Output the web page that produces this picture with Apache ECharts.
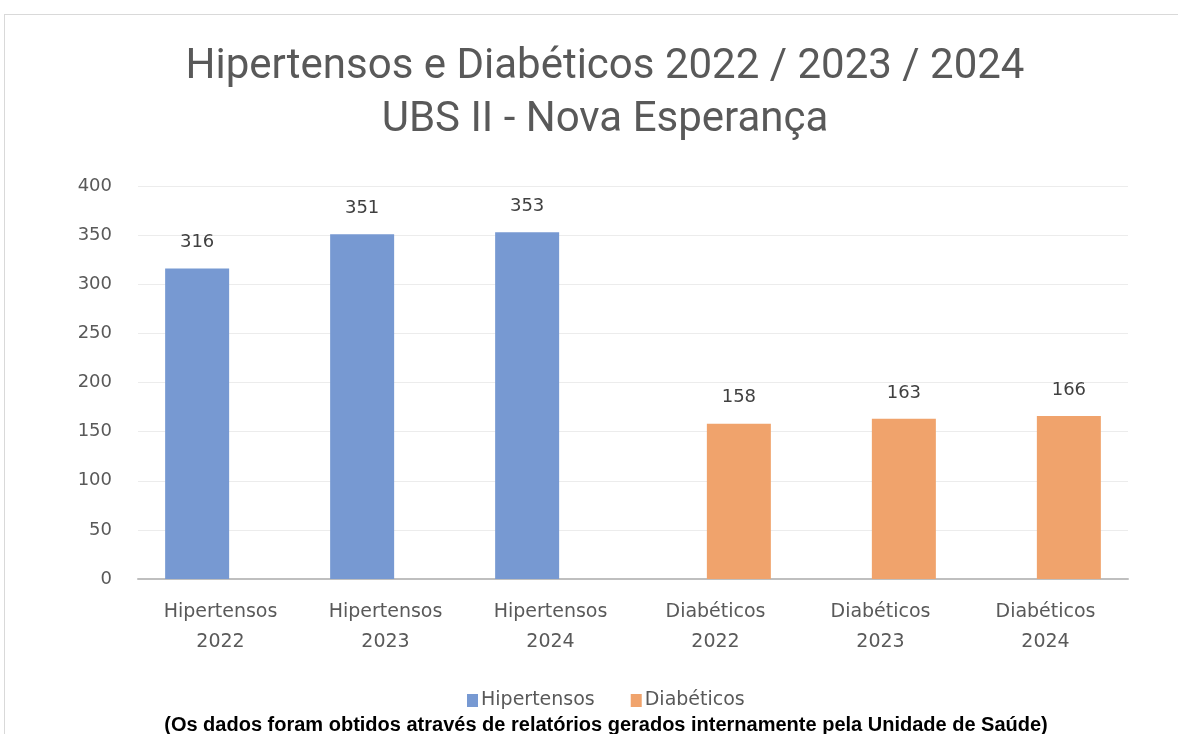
<!DOCTYPE html>
<html>
<head>
<meta charset="utf-8">
<script src="https://cdn.jsdelivr.net/npm/echarts@6/dist/echarts.min.js"></script>
<style>
  html, body { margin: 0; padding: 0; background: #fff; overflow: hidden; }
  #frame { position: absolute; left: 4px; top: 14px; width: 1200px; height: 740px; border: 1px solid #d9d9d9; }
  #chart { position: absolute; left: 0; top: 0; width: 1178px; height: 734px; }
</style>
</head>
<body>
<div id="frame"></div>
<div id="chart"></div>
<script>
const categories = [
  "Hipertensos\n2022", "Hipertensos\n2023", "Hipertensos\n2024",
  "Diabéticos\n2022", "Diabéticos\n2023", "Diabéticos\n2024"
];
const hipertensos = [316, 351, 353, null, null, null];
const diabeticos = [null, null, null, 158, 163, 166];
const yTicks = { min: 0, max: 400, interval: 50 };

const labelFont = "DejaVu Sans";

const chart = echarts.init(document.getElementById("chart"));

const barLabel = {
  show: true,
  position: "top",
  distance: 17,
  color: "#404040",
  fontFamily: labelFont,
  fontSize: 18
};

chart.setOption({
  animation: false,
  title: [
    {
      text: "Hipertensos e Diabéticos 2022 / 2023 / 2024\nUBS II - Nova Esperança",
      left: 600,
      textAlign: "center",
      top: 36,
      textStyle: {
        fontFamily: "Roboto, sans-serif",
        fontWeight: "normal",
        fontSize: 42,
        lineHeight: 53,
        color: "#595959"
      }
    },
    {
      text: "(Os dados foram obtidos através de relatórios gerados internamente pela Unidade de Saúde)",
      left: 601,
      textAlign: "center",
      top: 710,
      textStyle: {
        fontFamily: "Liberation Sans, sans-serif",
        fontWeight: "bold",
        fontSize: 20,
        color: "#000"
      }
    }
  ],
  legend: {
    data: ["Hipertensos", "Diabéticos"],
    left: 462,
    top: 686,
    itemWidth: 11,
    itemHeight: 13,
    itemGap: 36,
    icon: "rect",
    textStyle: { fontFamily: labelFont, fontSize: 19, color: "#595959", padding: [0, 0, 0, -2] }
  },
  grid: { left: 138, right: 50, top: 186, bottom: 155 },
  xAxis: {
    type: "category",
    data: categories,
    axisLine: { lineStyle: { color: "#bfbfbf", width: 2 } },
    axisTick: { show: false },
    axisLabel: {
      fontFamily: labelFont,
      fontSize: 19,
      color: "#595959",
      lineHeight: 30,
      margin: 18
    }
  },
  yAxis: {
    type: "value",
    min: yTicks.min,
    max: yTicks.max,
    interval: yTicks.interval,
    axisLine: { show: false },
    axisTick: { show: false },
    splitLine: { lineStyle: { color: "#ececec", width: 1 } },
    axisLabel: { fontFamily: labelFont, fontSize: 18, color: "#595959", margin: 26 }
  },
  series: [
    {
      name: "Hipertensos",
      type: "bar",
      data: hipertensos,
      barWidth: 64,
      barGap: "-27%",
      itemStyle: { color: "#7799d2" },
      label: barLabel
    },
    {
      name: "Diabéticos",
      type: "bar",
      data: diabeticos,
      barWidth: 64,
      itemStyle: { color: "#f0a36c" },
      label: barLabel
    }
  ]
});
</script>
</body>
</html>
